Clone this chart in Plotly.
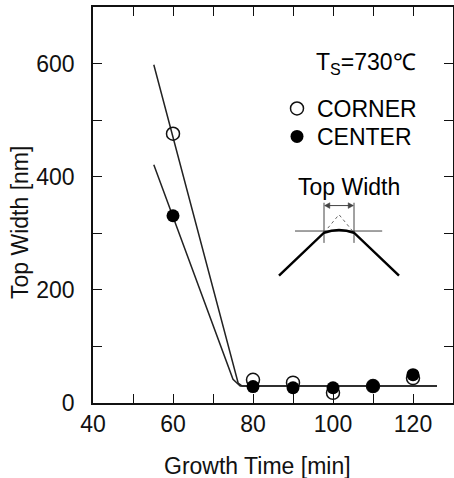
import plotly.graph_objects as go

# Data
growth_time = [60, 80, 90, 100, 110, 120]
corner_width = [476, 41, 36, 18, 30, 44]
center_width = [331, 29, 27, 27, 30, 50]

# Fit (guide) lines
corner_fit_x = [55.2, 76.3, 77.3, 126]
corner_fit_y = [598, 35, 30, 30]
center_fit_x = [55.2, 75.0, 76.8, 126]
center_fit_y = [421, 42, 30, 30]

x_tickvals = [40, 50, 60, 70, 80, 90, 100, 110, 120, 130]
x_ticktext = ["40", "", "60", "", "80", "", "100", "", "120", ""]
y_tickvals = [0, 100, 200, 300, 400, 500, 600, 700]
y_ticktext = ["0", "", "200", "", "400", "", "600", ""]

FONT = "Liberation Sans, Arial, sans-serif"
FS = 23

# plot area in pixels
L, R, T, B = 93, 453, 7, 403
W, H = R - L, B - T


def px(xp):
    return (xp - L) / W


def py(yp):
    return (B - yp) / H


fig = go.Figure()
fig.add_trace(go.Scatter(x=corner_fit_x, y=corner_fit_y, mode="lines",
                         line=dict(color="#222", width=1.5), showlegend=False,
                         hoverinfo="skip"))
fig.add_trace(go.Scatter(x=center_fit_x, y=center_fit_y, mode="lines",
                         line=dict(color="#222", width=1.5), showlegend=False,
                         hoverinfo="skip"))
fig.add_trace(go.Scatter(x=growth_time, y=corner_width, mode="markers", name="CORNER",
                         legend="legend",
                         marker=dict(symbol="circle-open", size=13, color="#111",
                                     line=dict(width=1.5, color="#111"))))
fig.add_trace(go.Scatter(x=growth_time, y=center_width, mode="markers", name="CENTER",
                         legend="legend2",
                         marker=dict(symbol="circle", size=13, color="#000")))

# Inset schematic (Top Width definition)
shapes = []
shapes.append(dict(type="line", xref="x", yref="y", x0=90.5, y0=304, x1=112.3, y1=304,
                   line=dict(color="#444", width=1)))
for xv in [97.75, 105.25]:
    shapes.append(dict(type="line", xref="x", yref="y", x0=xv, y0=283, x1=xv, y1=354,
                       line=dict(color="#444", width=1)))
shapes.append(dict(type="line", xref="x", yref="y", x0=98.0, y0=349, x1=105.0, y1=349,
                   line=dict(color="#444", width=1)))
shapes.append(dict(type="path", xref="x", yref="y",
                   path="M 97.9 349 L 99.2 354 L 99.2 344 Z",
                   fillcolor="#444", line=dict(color="#444", width=0.5)))
shapes.append(dict(type="path", xref="x", yref="y",
                   path="M 105.1 349 L 103.8 354 L 103.8 344 Z",
                   fillcolor="#444", line=dict(color="#444", width=0.5)))
shapes.append(dict(type="path", xref="x", yref="y",
                   path="M 97.75 301 L 101.5 333 L 105.25 301",
                   line=dict(color="#666", width=1, dash="dot")))
shapes.append(dict(type="path", xref="x", yref="y",
                   path="M 86.5 225 L 97.75 301 Q 101.5 311 105.25 301 L 116.5 225",
                   line=dict(color="#000", width=2.5)))
fig.update_layout(shapes=shapes)

annotations = [
    dict(x=104, y=382, xref="x", yref="y", text="Top Width", showarrow=False,
         xanchor="center", yanchor="middle",
         font=dict(size=FS, family=FONT, color="#000")),
    dict(x=px(366), y=py(64), xref="paper", yref="paper", text="T<sub>S</sub>=730℃",
         xanchor="center", yanchor="middle",
         showarrow=False, font=dict(size=FS, family=FONT, color="#000")),
    dict(x=px(257), y=py(466), xref="paper", yref="paper", text="Growth Time [min]",
         xanchor="center", yanchor="middle",
         showarrow=False, font=dict(size=FS, family=FONT, color="#111")),
    dict(x=px(20), y=py(223), xref="paper", yref="paper", text="Top Width [nm]",
         xanchor="center", yanchor="middle",
         showarrow=False, textangle=-90, font=dict(size=FS, family=FONT, color="#111")),
]
fig.update_layout(annotations=annotations)

axis_common = dict(showline=True, linecolor="#111", linewidth=1.5, mirror="allticks",
                   ticks="inside", ticklen=9, tickwidth=1.2, tickcolor="#111",
                   showgrid=False, zeroline=False, automargin=False,
                   tickfont=dict(size=FS, family=FONT, color="#111"))

fig.update_xaxes(range=[40, 130], tickvals=x_tickvals, ticktext=x_ticktext,
                 ticklabelstandoff=0, **axis_common)
fig.update_yaxes(range=[0, 700], tickvals=y_tickvals, ticktext=y_ticktext,
                 ticklabelstandoff=12, **axis_common)

legend_common = dict(xanchor="left", yanchor="top",
                     font=dict(size=FS, family=FONT, color="#000"),
                     bgcolor="rgba(0,0,0,0)", itemwidth=30)

fig.update_layout(
    width=454, height=478,
    margin=dict(l=L, r=454 - R, t=T, b=478 - B),
    paper_bgcolor="white", plot_bgcolor="white",
    legend=dict(x=px(277), y=py(87), **legend_common),
    legend2=dict(x=px(277), y=py(115), **legend_common),
    showlegend=True,
)

fig.write_html("out.html", config={"displayModeBar": False},
               post_script="document.body.style.margin='0';")
